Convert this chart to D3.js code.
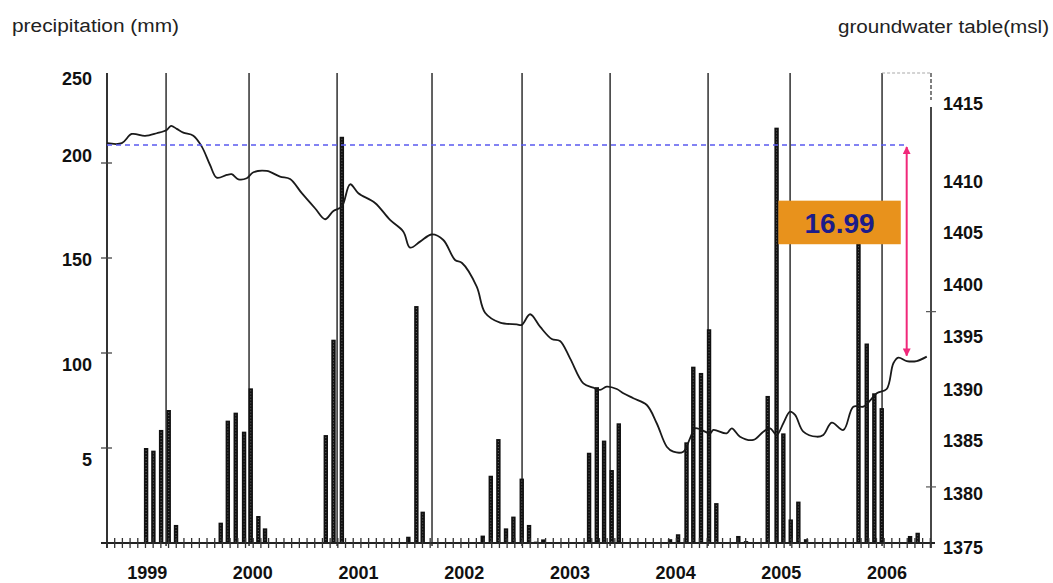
<!DOCTYPE html>
<html><head><meta charset="utf-8">
<script src="https://cdn.jsdelivr.net/npm/d3@7"></script>
<style>
body{margin:0;background:#fff;}
svg{display:block;font-family:"Liberation Sans",Arial,sans-serif;}
</style></head><body>
<svg id="chart" width="1053" height="583"></svg>
<script>
// ---------------- data ----------------
const timeDomain = [1998.62, 2006.416];
const yearLabels = [1999, 2000, 2001, 2002, 2003, 2004, 2005, 2006];

const precipTicks = [50, 100, 150, 200];
const precipLabels = ["250", "200", "150", "100", "5"];
const precipLabelPos = [244.5, 204, 149, 93.7, 43.7];

const gwLabels = [1375, 1380, 1385, 1390, 1395, 1400, 1405, 1410, 1415];
const gwLabelPos = [1374.8, 1380, 1385.1, 1390, 1395.1, 1400.1, 1405.1, 1410, 1417.6];
const gwMinorTicks = [1397.5, 1380.6];

const barDates = [1998.990, 1999.059, 1999.132, 1999.204, 1999.273,
  1999.696, 1999.763, 1999.838, 1999.917, 1999.980, 2000.052, 2000.115,
  2000.690, 2000.763, 2000.842,
  2001.471, 2001.547, 2001.607,
  2002.175, 2002.251, 2002.323, 2002.395, 2002.465, 2002.544, 2002.613, 2002.679, 2002.748,
  2003.096, 2003.181, 2003.254, 2003.323, 2003.395, 2003.462,
  2003.947, 2004.023, 2004.103, 2004.167, 2004.240, 2004.316, 2004.385,
  2004.593, 2004.666,
  2004.871, 2004.955, 2005.019, 2005.089, 2005.161, 2005.234,
  2005.730, 2005.808, 2005.880, 2005.950,
  2006.076, 2006.218, 2006.290];
const precipitation = [50, 48.6, 59.5, 70, 9.5,
  10.7, 64.4, 68.6, 58.6, 81.4, 14.2, 7.7,
  56.8, 107, 213.8,
  3.3, 124.7, 16.5,
  3.9, 35.4, 54.7, 7.7, 13.9, 33.9, 9.5, 0.7, 1.9,
  0.5, 47.5, 82, 53.9, 38.4, 63,
  2, 4.6, 53, 92.8, 89.5, 112.5, 21,
  3.7, 1,
  77.4, 218.6, 57.7, 12.4, 21.8, 2,
  162, 105, 78.8, 71,
  0.5, 3.7, 5.4];

const markerDates = [1999.179, 1999.964, 2000.797, 2001.695, 2002.547, 2003.380, 2004.307, 2005.083, 2005.953];

const gwDates = [1998.62, 1998.760, 1998.854, 1998.980, 1999.091, 1999.185, 1999.226, 1999.280, 1999.342, 1999.437,
  1999.517, 1999.595, 1999.658, 1999.753, 1999.800, 1999.863, 1999.942, 2000.005, 2000.131, 2000.257,
  2000.352, 2000.463, 2000.588, 2000.683, 2000.762, 2000.841, 2000.920, 2000.998, 2001.156, 2001.298,
  2001.424, 2001.487, 2001.582, 2001.693, 2001.802, 2001.913, 2001.979, 2002.118, 2002.197, 2002.339,
  2002.497, 2002.544, 2002.623, 2002.717, 2002.828, 2002.906, 2003.001, 2003.127, 2003.221, 2003.285,
  2003.348, 2003.443, 2003.505, 2003.600, 2003.727, 2003.821, 2003.916, 2003.978, 2004.073, 2004.136,
  2004.183, 2004.231, 2004.325, 2004.357, 2004.483, 2004.531, 2004.609, 2004.735, 2004.830, 2004.893,
  2004.956, 2005.019, 2005.082, 2005.130, 2005.208, 2005.335, 2005.397, 2005.477, 2005.587, 2005.681,
  2005.776, 2005.839, 2005.903, 2005.997, 2006.060, 2006.107, 2006.186, 2006.281, 2006.376];
const gwLevels = [1413.74, 1413.74, 1414.63, 1414.44, 1414.70, 1415.02, 1415.41, 1415.12, 1414.76, 1414.47,
  1413.41, 1411.64, 1410.42, 1410.68, 1410.75, 1410.26, 1410.36, 1410.94, 1411.07, 1410.52,
  1410.29, 1408.92, 1407.47, 1406.41, 1407.21, 1407.62, 1409.78, 1408.92, 1407.98, 1406.34,
  1405.21, 1403.67, 1404.25, 1404.94, 1404.41, 1402.48, 1402.19, 1399.91, 1397.40, 1396.44,
  1396.28, 1396.22, 1397.25, 1396.05, 1394.86, 1394.67, 1393.00, 1390.59, 1390.17, 1389.95,
  1390.27, 1390.04, 1389.63, 1389.15, 1388.50, 1386.74, 1384.48, 1384.00, 1384.00, 1385.29,
  1386.25, 1386.16, 1385.77, 1386.09, 1385.77, 1386.25, 1385.44, 1385.13, 1385.93, 1386.25,
  1385.61, 1386.74, 1387.85, 1387.54, 1385.93, 1385.44, 1385.61, 1386.79, 1386.09, 1388.34,
  1388.34, 1388.92, 1389.63, 1390.04, 1392.52, 1393.06, 1392.74, 1392.74, 1393.16];

const startLevel = 1413.57;
const endLevel = 1393.16;
const dropDate = 2006.186;
const dropLabel = "16.99";
const labelBoxDates = [2004.972, 2006.130];
const labelBoxLevels = [1408.2, 1404.0];

// ---------------- layout ----------------
const svg = d3.select("#chart");
const L = 107, R = 931, T = 73, B = 543;
const x = d3.scaleLinear().domain(timeDomain).range([L, R]);
const yP = d3.scaleLinear().domain([0, 250]).range([B, 68]);
const yG = d3.scaleLinear().domain([1375, 1410]).range([545, 182]);

// titles
svg.append("text").attr("x", 12).attr("y", 32).attr("font-size", 18).attr("fill", "#222")
  .attr("textLength", 167).attr("lengthAdjust", "spacingAndGlyphs")
  .text("precipitation (mm)");
svg.append("text").attr("x", 838).attr("y", 33).attr("font-size", 18).attr("fill", "#222")
  .attr("textLength", 211).attr("lengthAdjust", "spacingAndGlyphs")
  .text("groundwater table(msl)");

// marker vertical lines
svg.append("g").selectAll("line").data(markerDates).join("line")
  .attr("x1", d => x(d)).attr("x2", d => x(d)).attr("y1", T).attr("y2", B + 3)
  .attr("stroke", "#3c3c3c").attr("stroke-width", 1.6);

// top-right dashed frame
svg.append("line").attr("x1", x(markerDates[markerDates.length - 1])).attr("x2", R)
  .attr("y1", T).attr("y2", T).attr("stroke", "#aaa").attr("stroke-width", 1.2).attr("stroke-dasharray", "3,2");

// bars
const bars = svg.append("g");
bars.selectAll("rect").data(barDates).join("rect")
  .attr("x", d => x(d) - 2.2).attr("width", 4.4)
  .attr("y", (d, i) => yP(precipitation[i]))
  .attr("height", (d, i) => B - yP(precipitation[i]))
  .attr("fill", "#111");
bars.selectAll("line").data(barDates.filter((d, i) => precipitation[i] > 4)).join("line")
  .attr("x1", d => x(d)).attr("x2", d => x(d))
  .attr("y1", d => yP(precipitation[barDates.indexOf(d)]) + 2).attr("y2", B)
  .attr("stroke", "#6a6a6a").attr("stroke-width", 1).attr("stroke-dasharray", "1,2");

// left axis
svg.append("line").attr("x1", L).attr("x2", L).attr("y1", T).attr("y2", B + 5)
  .attr("stroke", "#333").attr("stroke-width", 2);
svg.append("g").selectAll("line").data(precipTicks).join("line")
  .attr("x1", L - 6).attr("x2", L + 5).attr("y1", d => yP(d)).attr("y2", d => yP(d))
  .attr("stroke", "#444").attr("stroke-width", 1.3);
svg.append("g").selectAll("text").data(precipLabels).join("text")
  .attr("x", 92).attr("y", (d, i) => yP(precipLabelPos[i]))
  .attr("dy", "0.36em").attr("text-anchor", "end")
  .attr("font-size", 18).attr("font-weight", "bold").attr("fill", "#111").text(d => d);

// right axis
svg.append("line").attr("x1", R).attr("x2", R).attr("y1", T).attr("y2", 100)
  .attr("stroke", "#555").attr("stroke-width", 1.5).attr("stroke-dasharray", "4,2");
svg.append("line").attr("x1", R).attr("x2", R).attr("y1", 107).attr("y2", B + 5)
  .attr("stroke", "#333").attr("stroke-width", 1.8);
svg.append("g").selectAll("line").data(gwMinorTicks).join("line")
  .attr("x1", R - 5).attr("x2", R + 5).attr("y1", d => yG(d)).attr("y2", d => yG(d))
  .attr("stroke", "#555").attr("stroke-width", 1.2);
svg.append("g").selectAll("text").data(gwLabels).join("text")
  .attr("x", 943).attr("y", (d, i) => yG(gwLabelPos[i]))
  .attr("dy", "0.36em").attr("font-size", 18).attr("font-weight", "bold").attr("fill", "#111")
  .text(d => d);

// baseline with ticks
svg.append("line").attr("x1", L - 6).attr("x2", R + 4).attr("y1", B).attr("y2", B)
  .attr("stroke", "#222").attr("stroke-width", 2);
const tickStep = 0.0728;
svg.append("g").selectAll("line").data(d3.range(timeDomain[0], timeDomain[1], tickStep)).join("line")
  .attr("x1", d => x(d)).attr("x2", d => x(d)).attr("y1", B - 5).attr("y2", B + 5)
  .attr("stroke", "#333").attr("stroke-width", 1.3);

// year labels
svg.append("g").selectAll("text").data(yearLabels).join("text")
  .attr("x", d => x(d)).attr("y", 573).attr("dy", "0.36em").attr("text-anchor", "middle")
  .attr("font-size", 18).attr("font-weight", "bold").attr("fill", "#111").text(d => d);

// groundwater line
svg.append("path").datum(gwDates)
  .attr("d", d3.line().x(d => x(d)).y((d, i) => yG(gwLevels[i])).curve(d3.curveCatmullRom.alpha(0.5)))
  .attr("fill", "none").attr("stroke", "#1a1a1a").attr("stroke-width", 1.8);

// dashed reference level
svg.append("line").attr("x1", x(timeDomain[0])).attr("x2", x(dropDate))
  .attr("y1", yG(startLevel)).attr("y2", yG(startLevel))
  .attr("stroke", "#5a5af0").attr("stroke-width", 1.4).attr("stroke-dasharray", "5,4");

// arrow
const defs = svg.append("defs");
["s", "e"].forEach(k => {
  defs.append("marker").attr("id", "ah" + k).attr("viewBox", "0 0 10 10")
    .attr("refX", 9).attr("refY", 5).attr("markerWidth", 4).attr("markerHeight", 4)
    .attr("orient", k === "s" ? "auto-start-reverse" : "auto")
    .append("path").attr("d", "M0,0L10,5L0,10z").attr("fill", "#f0287a");
});
svg.append("line").attr("x1", x(dropDate)).attr("x2", x(dropDate))
  .attr("y1", yG(startLevel) + 2).attr("y2", yG(endLevel) - 1)
  .attr("stroke", "#f0287a").attr("stroke-width", 2)
  .attr("marker-start", "url(#ahs)").attr("marker-end", "url(#ahe)");

// label box
svg.append("rect").attr("x", x(labelBoxDates[0])).attr("y", yG(labelBoxLevels[0]))
  .attr("width", x(labelBoxDates[1]) - x(labelBoxDates[0]))
  .attr("height", yG(labelBoxLevels[1]) - yG(labelBoxLevels[0]))
  .attr("fill", "#e8921c");
svg.append("text").attr("x", (x(labelBoxDates[0]) + x(labelBoxDates[1])) / 2)
  .attr("y", (yG(labelBoxLevels[0]) + yG(labelBoxLevels[1])) / 2).attr("dy", "0.36em")
  .attr("text-anchor", "middle").attr("font-size", 28).attr("font-weight", "bold")
  .attr("fill", "#1c1c8a").text(dropLabel);
</script></body></html>
